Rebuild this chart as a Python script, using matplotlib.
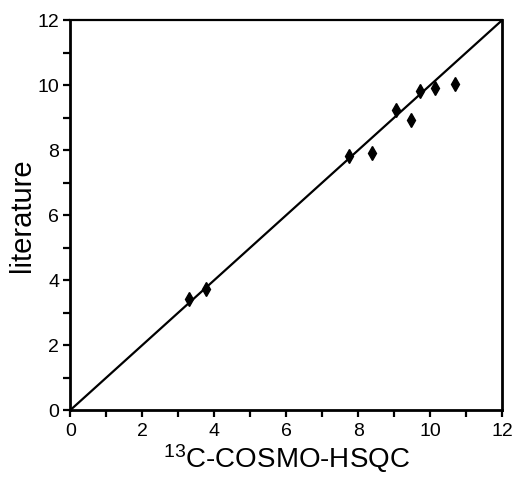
import matplotlib
matplotlib.use("Agg")
import matplotlib.pyplot as plt
from matplotlib.ticker import MultipleLocator

# shifts: 13C-COSMO-HSQC vs. literature values
cosmo = [3.30, 3.77, 7.74, 8.38, 9.05, 9.47, 9.72, 10.14, 10.69]
lit   = [3.42, 3.72, 7.82, 7.91, 9.23, 8.92, 9.82, 9.91, 10.03]
diag  = [0, 12]

plt.rcParams["font.family"] = ["Liberation Sans", "DejaVu Sans"]
plt.rcParams["mathtext.fontset"] = "custom"
plt.rcParams["mathtext.rm"] = "Liberation Sans"

fig = plt.figure(figsize=(5.14, 4.79), dpi=100)
ax = fig.add_axes([0.137, 0.144, 0.840, 0.814])

ax.plot(diag, diag, color="black", linewidth=1.6, zorder=2)
ax.plot(cosmo, lit, linestyle="none", marker="d", markersize=7.5,
        color="black", zorder=3)

ax.set_xlim(0, 12)
ax.set_ylim(0, 12)
ax.xaxis.set_major_locator(MultipleLocator(2))
ax.yaxis.set_major_locator(MultipleLocator(2))
ax.xaxis.set_minor_locator(MultipleLocator(1))
ax.yaxis.set_minor_locator(MultipleLocator(1))
ax.tick_params(which="both", direction="out", length=5, width=1.6,
               labelsize=14, top=False, right=False)
ax.tick_params(axis="x", pad=4)
ax.tick_params(axis="y", pad=3)

for side in ("left", "bottom", "right"):
    ax.spines[side].set_linewidth(2.0)
ax.spines["top"].set_linewidth(1.6)

ax.set_xlabel("$\\mathregular{^{13}}$C-COSMO-HSQC", fontsize=20, labelpad=2)
ax.set_ylabel("literature", fontsize=21, labelpad=1)

fig.savefig("out.png", dpi=100)
